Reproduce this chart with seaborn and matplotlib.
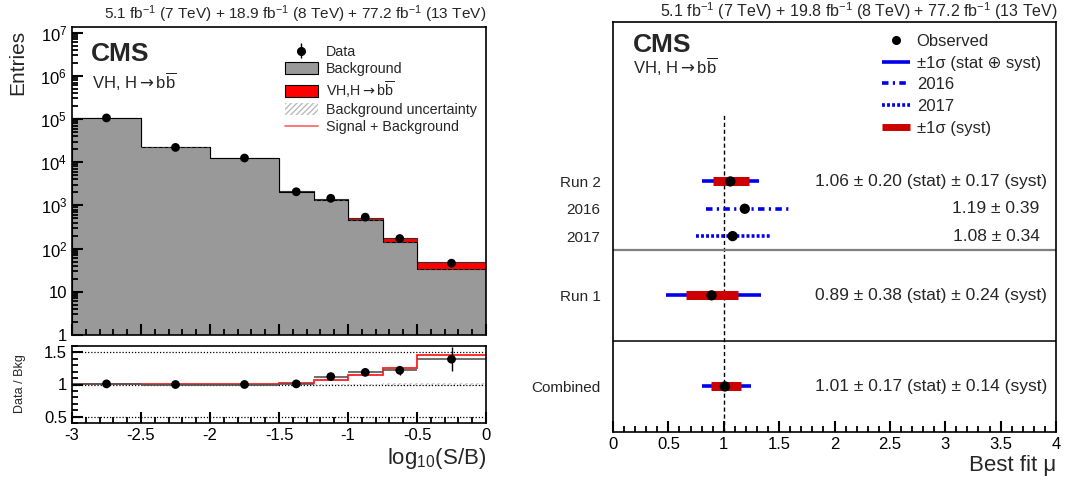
import numpy as np
import pandas as pd
import seaborn as sns
import matplotlib.pyplot as plt
from matplotlib.patches import Patch
from matplotlib.lines import Line2D
from matplotlib.ticker import MultipleLocator, LogLocator, FuncFormatter, NullFormatter

# ---- left panel: log10(S/B) distribution ----
edges = [-3, -2.5, -2, -1.5, -1.25, -1, -0.75, -0.5, 0]
background = [1.05e5, 2.2e4, 1.25e4, 2.05e3, 1.3e3, 450, 140, 33]
signal = [150, 120, 120, 60, 95, 65, 35, 15]
data = [1.06e5, 2.2e4, 1.25e4, 2.07e3, 1.46e3, 535, 171, 46]
ratio_err = [0.003, 0.007, 0.009, 0.02, 0.03, 0.045, 0.07, 0.19]
bkg_unc = [0.005, 0.005, 0.005, 0.01, 0.01, 0.015, 0.02, 0.03]

# ---- right panel: signal strength ----
labels = ['Run 2', '2016', '2017', 'Run 1', 'Combined']
rows = [5.5, 4.9, 4.3, 3, 1]
mu = [1.06, 1.19, 1.08, 0.89, 1.01]
tot_lo = [0.80, 0.84, 0.75, 0.475, 0.80]
tot_hi = [1.32, 1.59, 1.43, 1.335, 1.245]
syst_lo = [0.90, np.nan, np.nan, 0.655, 0.885]
syst_hi = [1.23, np.nan, np.nan, 1.13, 1.16]
result_text = ['1.06 ± 0.20 (stat) ± 0.17 (syst)', '1.19 ± 0.39', '1.08 ± 0.34',
               '0.89 ± 0.38 (stat) ± 0.24 (syst)', '1.01 ± 0.17 (stat) ± 0.14 (syst)']

sns.set_style('ticks')
plt.rcParams['font.family'] = ['Liberation Sans', 'DejaVu Sans']
plt.rcParams['mathtext.fontset'] = 'custom'
plt.rcParams['mathtext.rm'] = 'Liberation Sans'
plt.rcParams['mathtext.it'] = 'Liberation Sans:italic'
plt.rcParams['mathtext.sf'] = 'DejaVu Sans'
plt.rcParams['axes.linewidth'] = 1.2
plt.rcParams['axes.edgecolor'] = 'black'
plt.rcParams['axes.axisbelow'] = False

W, H = 1067, 482
fig = plt.figure(figsize=(W / 100, H / 100), dpi=100)


def rect(x0, y0, x1, y1):
    return [x0 / W, 1 - y1 / H, (x1 - x0) / W, (y1 - y0) / H]


def style_ticks(a, axis='both'):
    a.tick_params(axis=axis, which='both', direction='in', color='black', labelcolor='black')
    a.tick_params(axis=axis, which='major', length=8, width=1.5, labelsize=12)
    a.tick_params(axis=axis, which='minor', length=4, width=1.3)


arrow = r'$\mathsf{\rightarrow}$'
vh_text = 'VH, H' + arrow + r'b$\overline{\mathrm{b}}$'

ax = fig.add_axes(rect(72, 27, 486, 335))
axr = fig.add_axes(rect(72, 346, 486, 423))
axm = fig.add_axes(rect(613, 22, 1056, 432))

edges_a = np.array(edges)
centers = (edges_a[:-1] + edges_a[1:]) / 2
bkg = np.array(background)
sig = np.array(signal)
dat = np.array(data)

ax.set_yscale('log')
sns.histplot(x=centers, weights=bkg + sig, bins=edges, element='step', fill=True,
             color='#ff0000', alpha=1, edgecolor='#333333', linewidth=0.8, ax=ax)
sns.histplot(x=centers, weights=bkg, bins=edges, element='step', fill=True,
             color='#999999', alpha=1, edgecolor='black', linewidth=0.8, ax=ax)
ax.stairs(bkg * (1 + np.array(bkg_unc)), edges, baseline=bkg * (1 - np.array(bkg_unc)),
          fill=True, facecolor='none', hatch='//////', edgecolor='#444444', linewidth=0)
derr = ax.errorbar(centers, dat, yerr=np.array(ratio_err) * bkg, fmt='none', ecolor='black', elinewidth=1)
sns.scatterplot(x=centers, y=dat, color='black', s=40, edgecolor='none', ax=ax, zorder=5)
ax.set_xlim(-3, 0)
ax.set_ylim(1, 10 ** 7.13)
ax.yaxis.set_major_locator(LogLocator(base=10, numticks=10))
ax.yaxis.set_minor_locator(LogLocator(base=10, subs=np.arange(2, 10), numticks=20))
ax.yaxis.set_major_formatter(FuncFormatter(lambda v, p: '1' if v == 1 else ('10' if v == 10 else r'$10^{%d}$' % round(np.log10(v)))))
ax.yaxis.set_minor_formatter(NullFormatter())
ax.xaxis.set_major_locator(MultipleLocator(0.5))
ax.xaxis.set_minor_locator(MultipleLocator(0.1))
style_ticks(ax)
ax.tick_params(axis='x', labelbottom=False)
ax.set_ylabel('')
ax.set_xlabel('')

dot = Line2D([], [], marker='o', color='black', ls='none', ms=5.5)
leg_handles = [(derr, dot),
               Patch(facecolor='#999999', edgecolor='black', linewidth=0.8),
               Patch(facecolor='#ff0000', edgecolor='black', linewidth=0.8),
               Patch(facecolor='white', edgecolor='#bbbbbb', hatch='//////', linewidth=0),
               Line2D([], [], color='#ff6060', lw=1.2)]
leg_labels = ['Data', 'Background', 'VH,H' + arrow + r'b$\overline{\mathrm{b}}$', 'Background uncertainty', 'Signal + Background']
ax.legend(leg_handles, leg_labels, loc='upper left', bbox_to_anchor=(285 / W, 1 - 45 / H),
          bbox_transform=fig.transFigure, frameon=False, fontsize=10.3, borderpad=0, borderaxespad=0,
          handlelength=2.3, handleheight=0.9, handletextpad=0.55, labelspacing=0.22)

# ratio panel
rat = dat / bkg
axr.stairs(1 + np.array(bkg_unc), edges, baseline=1 - np.array(bkg_unc), fill=True,
           facecolor='none', hatch='//////', edgecolor='#c8c8c8', linewidth=0)
for yv in [0.5, 1, 1.5]:
    axr.axhline(yv, color='black', ls=(0, (1, 1.5)), lw=0.9)
axr.stairs((bkg + sig) / bkg, edges, color='#ff2020', lw=1.3, baseline=None)
axr.hlines(rat, edges_a[:-1], edges_a[1:], color='#555555', lw=1.2)
axr.errorbar(centers, rat, yerr=ratio_err, fmt='none', ecolor='black', elinewidth=1)
sns.scatterplot(x=centers, y=rat, color='black', s=40, edgecolor='none', ax=axr, zorder=5)
axr.set_xlim(-3, 0)
axr.set_ylim(0.4, 1.6)
axr.set_yticks([0.5, 1, 1.5])
axr.set_yticklabels(['0.5', '1', '1.5'])
axr.yaxis.set_minor_locator(MultipleLocator(0.1))
axr.xaxis.set_major_locator(MultipleLocator(0.5))
axr.xaxis.set_minor_locator(MultipleLocator(0.1))
axr.xaxis.set_major_formatter(FuncFormatter(lambda v, p: '%g' % v if v != 0 else '0'))
style_ticks(axr)
axr.set_xlabel('log$_{10}$(S/B)', fontsize=16, loc='right', labelpad=2)
axr.set_ylabel('')

fig.text(18 / W, 1 - 30 / H, 'Entries', rotation=90, ha='center', va='top', fontsize=15)
fig.text(20 / W, 1 - 384 / H, 'Data / Bkg', rotation=90, ha='center', va='center', fontsize=9)
fig.text(91 / W, 1 - 42 / H, 'CMS', fontsize=19, fontweight='bold', ha='left', va='top')
fig.text(92 / W, 1 - 82 / H, vh_text, fontsize=12, ha='left', va='center')
fig.text(486 / W, 1 - 14 / H, '5.1 fb$^{-1}$ (7 TeV) + 18.9 fb$^{-1}$ (8 TeV) + 77.2 fb$^{-1}$ (13 TeV)',
         fontsize=11.1, ha='right', va='center')

# ---- right panel ----
styles = ['-', (0, (1.8, 1.2, 0.6, 1.2)), (0, (0.8, 0.6)), '-', '-']
for i in range(len(labels)):
    axm.plot([tot_lo[i], tot_hi[i]], [rows[i], rows[i]], color='#0000ee', lw=2.6,
             ls=styles[i], solid_capstyle='butt', zorder=2)
    if not np.isnan(syst_lo[i]):
        axm.plot([syst_lo[i], syst_hi[i]], [rows[i], rows[i]], color='#cc0000', lw=6.5,
                 solid_capstyle='butt', zorder=3)
sns.scatterplot(x=mu, y=rows, color='black', s=55, edgecolor='none', ax=axm, zorder=5)
axm.plot([1, 1], [0, 7], color='black', ls=(0, (3, 2)), lw=1, zorder=1)
axm.axhline(4, color='#7f7f7f', lw=1.6)
axm.axhline(2, color='black', lw=1.1)
for i in range(len(labels)):
    xt = 3.85 if '(stat)' not in result_text[i] else 3.92
    axm.text(xt, rows[i], result_text[i], ha='right', va='center', fontsize=12.5)
axm.set_xlim(0, 4)
axm.set_ylim(0, 9)
axm.set_yticks(rows)
axm.set_yticklabels(labels, fontsize=11)
axm.yaxis.set_minor_locator(plt.NullLocator())
axm.tick_params(axis='y', length=0, pad=9)
axm.xaxis.set_major_locator(MultipleLocator(0.5))
axm.xaxis.set_minor_locator(MultipleLocator(0.1))
axm.xaxis.set_major_formatter(FuncFormatter(lambda v, p: '%g' % v))
style_ticks(axm, axis='x')
axm.set_xlabel('Best fit μ', fontsize=16, loc='right', labelpad=2)
axm.set_ylabel('')

mh = [Line2D([], [], marker='o', color='black', ls='none', ms=5.5),
      Line2D([], [], color='#0000ee', lw=2.6, solid_capstyle='butt'),
      Line2D([], [], color='#0000ee', lw=2.6, ls=styles[1]),
      Line2D([], [], color='#0000ee', lw=2.6, ls=styles[2]),
      Line2D([], [], color='#cc0000', lw=5, solid_capstyle='butt')]
ml = ['Observed', '±1σ (stat ⊕ syst)', '2016', '2017', '±1σ (syst)']
axm.legend(mh, ml, loc='upper left', bbox_to_anchor=(882 / W, 1 - 34 / H),
           bbox_transform=fig.transFigure, frameon=False, fontsize=12, borderpad=0, borderaxespad=0,
           handlelength=1.7, handletextpad=0.38, labelspacing=0.4)

fig.text(633 / W, 1 - 33 / H, 'CMS', fontsize=19, fontweight='bold', ha='left', va='top')
fig.text(633 / W, 1 - 67 / H, vh_text, fontsize=12, ha='left', va='center')
fig.text(1058 / W, 1 - 11 / H, '5.1 fb$^{-1}$ (7 TeV) + 19.8 fb$^{-1}$ (8 TeV) + 77.2 fb$^{-1}$ (13 TeV)',
         fontsize=11.5, ha='right', va='center')

fig.savefig('out.png', dpi=100)
